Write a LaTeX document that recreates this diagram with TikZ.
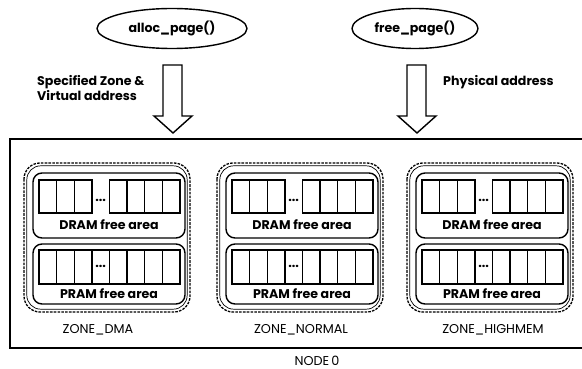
\documentclass[tikz,border=0pt]{standalone}
\usepackage{fontspec}
\setmainfont{Poppins}
\usetikzlibrary{shapes.geometric}
\tikzset{
  bold/.style={font=\bfseries\fontsize{12.6}{14}\selectfont},
  plain/.style={font=\fontsize{12.8}{14}\selectfont},
  cell/.style={draw, line width=1.4pt},
  area/.style={draw, line width=1.4pt, rounded corners=9pt},
  zoneout/.style={draw, dashed, dash pattern=on 2.6pt off 1.2pt, line width=1.3pt, rounded corners=16pt},
  zonein/.style={draw, line width=0.7pt, rounded corners=14pt},
  blockarrow/.style={draw, line width=1.4pt, fill=white, line join=miter},
  func/.style={draw, ellipse, line width=1.4pt, minimum width=150pt, minimum height=40pt, inner sep=0pt}
}
\begin{document}
\begin{tikzpicture}[x=1pt, y=-1pt]
\useasboundingbox (0,0) rectangle (582,369);
\clip (0,0) rectangle (582,369);
% outer node box (open to the right)
\draw[line width=1.6pt] (600,139) -- (10,139) -- (10,348) -- (600,348);
\node[plain] (node0) at (317,361) {NODE\,0};
% function ellipses
\node[func] (alloc) at (172,28.5) {};
\node[bold] at (alloc.center) {alloc\_page()};
\node[func, minimum width=126pt] (free) at (415,28.5) {};
\node[bold] at (free.center) {free\_page()};
% block arrows
\draw[blockarrow] (163,65) -- (182,65) -- (182,116) -- (192,116) -- (173,133) -- (154,116) -- (163,116) -- cycle;
\draw[blockarrow] (407,65) -- (426,65) -- (426,116) -- (436,116) -- (417,133) -- (398,116) -- (407,116) -- cycle;
\node[bold, align=left, anchor=north west, inner sep=0pt] (lab1) at (37,75) {Specified Zone \&\\[1pt]Virtual address};
\node[bold, anchor=north west, inner sep=0pt] (lab2) at (443,75) {Physical address};
% zones
\foreach \x/\nm/\lc in {24/ZONE\_DMA/98, 217/ZONE\_NORMAL/301, 407/ZONE\_HIGHMEM/493}{
  \draw[zoneout] (\x,163) rectangle (\x+166,312);
  \draw[zonein] (\x+2.8,165.8) rectangle (\x+163.2,309.2);
  \draw[area] (\x+9,173) rectangle (\x+161,238);
  \draw[area] (\x+9,244) rectangle (\x+161,304);
  \foreach \i in {0,1,2,4,5,6,7}{
    \draw[cell] (\x+15+\i*17.6,180) rectangle (\x+15+\i*17.6+17.6,213);
  }
  \foreach \i in {0,...,7}{
    \draw[cell] (\x+15+\i*17.6,250) rectangle (\x+15+\i*17.6+17.6,284);
  }
  \node[bold, inner sep=0pt] at (\x+15+3.5*17.6,200) {...};
  \node[bold, inner sep=0pt] at (\x+15+3.5*17.6,266) {...};
  \node[bold, inner sep=0pt] at (\x+85,224.5) {DRAM free area};
  \node[bold, inner sep=0pt] at (\x+85,293.5) {PRAM free area};
  \node[plain, inner sep=0pt] at (\lc,330) {\nm};
}
\end{tikzpicture}
\end{document}
